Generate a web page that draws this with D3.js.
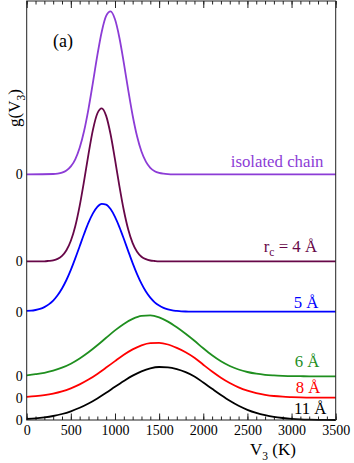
<!DOCTYPE html>
<html lang="en">
  <head>
    <meta charset="utf-8">
    <title>g(V3) distributions</title>
    <script type="text/javascript" src="https://d3js.org/d3.v7.min.js"></script>
    <style>
      body { margin: 0; background: #ffffff; }
      svg text { font-family: 'Liberation Serif', 'Times New Roman', serif; }
      .curve { fill: none; stroke-width: 1.8; }
      .frame { fill: none; stroke: #222222; stroke-width: 1; }
      .tick line { stroke: #222222; }
    </style>
  </head>
  <body>
    <div id="chart"></div>
    <script type="text/javascript">

      // ---- data ----
      var seriesLabels  = ['isolated chain', 'rc = 4 Å', '5 Å', '6 Å', '8 Å', '11 Å'];
      var seriesColors  = ['#8c3cd6', '#670748', '#0000ff', '#1f8f1f', '#ff0000', '#000000'];
      var seriesOffsets = [2.457, 1.587, 1.083, 0.437, 0.223, 0.0]; // vertical shift of each curve

      var isoV = [0, 300, 350, 400, 450, 500, 550, 600, 650, 700, 750, 800, 850, 900, 950, 1000,
                  1050, 1100, 1150, 1200, 1250, 1300, 1350, 1400, 1450, 1500, 1550, 1600, 1650, 3500];
      var isoG = [0, 0.003, 0.007, 0.017, 0.038, 0.079, 0.150, 0.265, 0.433, 0.655, 0.917, 1.189, 1.426, 1.584, 1.629, 1.550,
                  1.366, 1.115, 0.842, 0.588, 0.380, 0.228, 0.127, 0.065, 0.031, 0.014, 0.006, 0.002, 0, 0];

      var rc4V = [0, 200, 250, 300, 350, 400, 450, 500, 550, 600, 650, 700, 750, 800, 850, 900,
                  950, 1000, 1050, 1100, 1150, 1200, 1250, 1300, 1350, 1400, 1450, 1500, 3500];
      var rc4G = [0, 0, 0.004, 0.010, 0.024, 0.054, 0.110, 0.205, 0.351, 0.555, 0.804, 1.072, 1.314, 1.478, 1.530, 1.454,
                  1.270, 1.019, 0.752, 0.510, 0.318, 0.182, 0.096, 0.046, 0.021, 0.008, 0.003, 0, 0];

      var rc5V = [0, 50, 100, 150, 200, 250, 300, 350, 400, 450, 500, 550, 600, 650, 700, 750, 800, 850, 900, 950,
                  1000, 1050, 1100, 1150, 1200, 1250, 1300, 1350, 1400, 1450, 1500, 1550, 1600, 1650, 1700, 1750,
                  1800, 1850, 1900, 3500];
      var rc5G = [0.008, 0.010, 0.017, 0.028, 0.046, 0.073, 0.111, 0.164, 0.232, 0.317, 0.418, 0.533, 0.655, 0.777, 0.890, 0.983, 1.048, 1.078, 1.071, 1.026,
                  0.948, 0.846, 0.729, 0.606, 0.486, 0.376, 0.281, 0.202, 0.141, 0.094, 0.061, 0.038, 0.023, 0.013, 0.008, 0.004,
                  0.002, 0.001, 0, 0];

      // broad curves share one grid (every 100 K)
      var broadV = [0, 100, 200, 300, 400, 500, 600, 700, 800, 900, 1000, 1100, 1200, 1300, 1400, 1500, 1600, 1700,
                    1800, 1900, 2000, 2100, 2200, 2300, 2400, 2500, 2600, 2700, 2800, 2900, 3000, 3100, 3200, 3300, 3400, 3500];
      var rc6G  = [0.010, 0.021, 0.035, 0.056, 0.086, 0.126, 0.178, 0.240, 0.310, 0.385, 0.459, 0.524, 0.574, 0.604, 0.609, 0.589, 0.547, 0.490,
                   0.425, 0.355, 0.280, 0.210, 0.150, 0.103, 0.068, 0.043, 0.026, 0.015, 0.009, 0.005, 0.002, 0.001, 0, 0, 0, 0];
      var rc8G  = [0.009, 0.016, 0.026, 0.041, 0.063, 0.094, 0.133, 0.181, 0.238, 0.301, 0.366, 0.429, 0.483, 0.524, 0.546, 0.548, 0.532, 0.498,
                   0.455, 0.400, 0.330, 0.262, 0.200, 0.147, 0.104, 0.071, 0.046, 0.029, 0.017, 0.010, 0.006, 0.003, 0.001, 0, 0, 0];
      var rc11G = [0.010, 0.016, 0.026, 0.040, 0.060, 0.087, 0.122, 0.165, 0.216, 0.272, 0.332, 0.390, 0.444, 0.487, 0.517, 0.530, 0.526, 0.508,
                   0.478, 0.435, 0.375, 0.312, 0.250, 0.192, 0.142, 0.102, 0.071, 0.048, 0.031, 0.020, 0.012, 0.007, 0.004, 0.002, 0.001, 0];

      var seriesV = [isoV, rc4V, rc5V, broadV, broadV, broadV];
      var seriesG = [isoG, rc4G, rc5G, rc6G, rc8G, rc11G];

      var xMajorTicks = [0, 500, 1000, 1500, 2000, 2500, 3000, 3500];
      var xMinorTicks = d3.range(0, 3501, 100);

      // ---- layout ----
      var w = 354;
      var h = 463;
      var plotL = 26.7, plotR = 335.7, plotT = 1, plotB = 420;
      var serif = "'Liberation Serif', 'Times New Roman', serif";

      var svg = d3.select('#chart')
        .append('svg')
          .attr('width', w)
          .attr('height', h);

      var x = d3.scaleLinear().domain([0, 3500]).range([plotL, plotR]);
      var y = d3.scaleLinear().domain([0, 4.19]).range([plotB, plotT]);

      // minor + major ticks, bottom (inward)
      svg.append('g')
        .attr('transform', 'translate(0,' + plotB + ')')
        .call(d3.axisBottom(x).tickValues(xMinorTicks).tickSize(-3.5).tickFormat(''))
        .call(function(g) { g.select('.domain').remove(); });

      svg.append('g')
        .attr('transform', 'translate(0,' + plotB + ')')
        .call(d3.axisBottom(x).tickValues(xMajorTicks).tickSize(-6.5).tickPadding(5).tickFormat(d3.format('d')))
        .call(function(g) {
          g.attr('font-family', serif);
          g.select('.domain').remove();
          g.selectAll('text').attr('font-size', 14).attr('fill', '#000');
        });

      // top axis (inward)
      svg.append('g')
        .attr('transform', 'translate(0,' + plotT + ')')
        .call(d3.axisTop(x).tickValues(xMinorTicks).tickSize(-3.5).tickFormat(''))
        .call(function(g) { g.select('.domain').remove(); });

      svg.append('g')
        .attr('transform', 'translate(0,' + plotT + ')')
        .call(d3.axisTop(x).tickValues(xMajorTicks).tickSize(-7).tickFormat(''))
        .call(function(g) { g.select('.domain').remove(); });

      // "0" marks at each curve's baseline
      svg.append('g')
        .attr('transform', 'translate(' + plotL + ',0)')
        .call(d3.axisLeft(y).tickValues(seriesOffsets).tickSize(0).tickPadding(4).tickFormat(function() { return '0'; }))
        .call(function(g) {
          g.attr('font-family', serif);
          g.select('.domain').remove();
          g.selectAll('text').attr('font-size', 14).attr('fill', '#000');
        });

      // curves
      var line = d3.line()
        .x(function(d) { return x(d[0]); })
        .y(function(d) { return y(d[1]); })
        .curve(d3.curveMonotoneX);

      for (var i = 0; i < seriesLabels.length; i++) {
        var pts = seriesV[i].map(function(v, j) { return [v, seriesG[i][j] + seriesOffsets[i]]; });
        svg.append('path')
          .datum(pts)
          .attr('class', 'curve')
          .attr('stroke', seriesColors[i])
          .attr('d', line);
      }

      // frame
      svg.append('rect')
        .attr('class', 'frame')
        .attr('x', plotL)
        .attr('y', plotT)
        .attr('width', plotR - plotL)
        .attr('height', plotB - plotT);

      // curve labels (right aligned, just above each baseline)
      var labelEnds = [323.5, 317, 318.5, 319.5, 320.5, 326.5];
      var labelLift = [7, 9.5, 4, 9.5, 4.5, 6.5]; // px above baseline

      for (var k = 0; k < seriesLabels.length; k++) {
        var t = svg.append('text')
          .attr('x', labelEnds[k])
          .attr('y', y(seriesOffsets[k]) - labelLift[k])
          .attr('text-anchor', 'end')
          .attr('font-family', serif)
          .attr('font-size', 16.8)
          .attr('fill', seriesColors[k]);
        if (k === 1) {
          t.append('tspan').text('r');
          t.append('tspan').attr('font-size', 11.5).attr('dy', 4).text('c');
          t.append('tspan').attr('dy', -4).text(' = 4 Å');
        } else {
          t.text(seriesLabels[k]);
        }
      }

      // panel tag
      svg.append('text')
        .attr('x', 53)
        .attr('y', 47)
        .attr('font-family', serif)
        .attr('font-size', 18)
        .text('(a)');

      // x title
      var xt = svg.append('text')
        .attr('x', 250)
        .attr('y', 455)
        .attr('font-family', serif)
        .attr('font-size', 17);
      xt.append('tspan').text('V');
      xt.append('tspan').attr('font-size', 11.5).attr('dy', 5).text('3');
      xt.append('tspan').attr('dy', -5).text(' (K)');

      // y title
      var yt = svg.append('text')
        .attr('transform', 'translate(19.5,108) rotate(-90)')
        .attr('text-anchor', 'middle')
        .attr('font-family', serif)
        .attr('font-size', 17);
      yt.append('tspan').text('g(V');
      yt.append('tspan').attr('font-size', 11.5).attr('dy', 5).text('3');
      yt.append('tspan').attr('dy', -5).text(')');

    </script>
  </body>
</html>
